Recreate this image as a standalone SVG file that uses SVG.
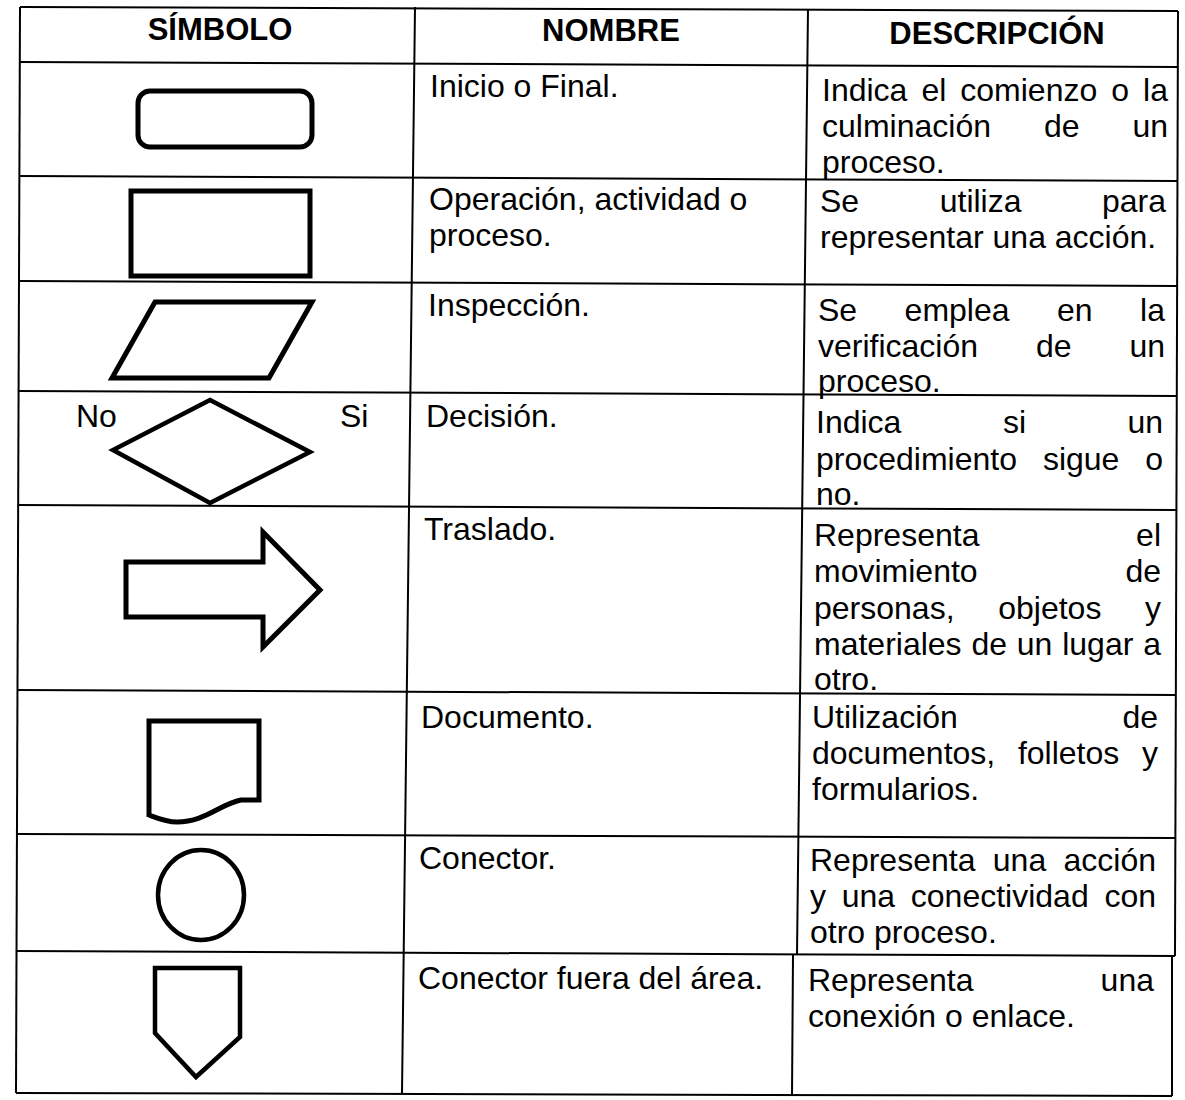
<svg xmlns="http://www.w3.org/2000/svg" width="1185" height="1100" viewBox="0 0 1185 1100">
<style>
  .grid line { stroke:#000; stroke-width:2; }
  .sym { fill:none; stroke:#000; stroke-width:5; stroke-linejoin:miter; }
  .sym4 { fill:none; stroke:#000; stroke-width:4.5; }
  text { font-family:"Liberation Sans", Arial, sans-serif; font-size:32px; fill:#000; }
  .hd { font-weight:bold; font-size:31px; text-anchor:middle; }
</style>
<rect x="0" y="0" width="1185" height="1100" fill="#fff"/>
<g id="grid" class="grid">
  <line x1="20" y1="7" x2="1178" y2="11"/>
  <line x1="20" y1="62" x2="1178" y2="67"/>
  <line x1="19" y1="176" x2="1178" y2="181"/>
  <line x1="19" y1="281" x2="1177" y2="286"/>
  <line x1="18" y1="391" x2="1177" y2="396"/>
  <line x1="18" y1="505" x2="1176" y2="510"/>
  <line x1="17" y1="690" x2="1176" y2="695"/>
  <line x1="17" y1="834" x2="1175" y2="838"/>
  <line x1="16" y1="951" x2="1175" y2="956"/>
  <line x1="16" y1="1093" x2="1172" y2="1096"/>
  <line x1="20" y1="7" x2="16" y2="1093"/>
  <line x1="415" y1="7" x2="402" y2="1094"/>
  <line x1="808" y1="9" x2="797" y2="955"/>
  <line x1="793" y1="955" x2="792" y2="1095"/>
  <line x1="1178" y1="11" x2="1175" y2="956"/>
  <line x1="1172" y1="956" x2="1172" y2="1096"/>
</g>
<g id="header">
  <text class="hd" x="220" y="40">SÍMBOLO</text>
  <text class="hd" x="611" y="41">NOMBRE</text>
  <text class="hd" x="997" y="44">DESCRIPCIÓN</text>
</g>
<g id="row-inicio">
  <rect class="sym" x="138" y="91" width="174" height="56" rx="12"/>
  <text x="430" y="97">Inicio o Final.</text>
  <text y="101"><tspan x="822">Indica</tspan><tspan x="921.4">el</tspan><tspan x="960.3">comienzo</tspan><tspan x="1111.2">o</tspan><tspan x="1143.1">la</tspan></text>
  <text y="137"><tspan x="822">culminación</tspan><tspan x="1043.9">de</tspan><tspan x="1132.4">un</tspan></text>
  <text x="822" y="173">proceso.</text>
</g>
<g id="row-operacion">
  <rect class="sym" x="131" y="191" width="179" height="85"/>
  <text x="429" y="210">Operación, actividad o</text>
  <text x="429" y="246">proceso.</text>
  <text y="212"><tspan x="820">Se</tspan><tspan x="939.7">utiliza</tspan><tspan x="1102">para</tspan></text>
  <text x="820" y="248">representar una acción.</text>
</g>
<g id="row-inspeccion">
  <polygon class="sym" points="155,302 312,302 269,378 112,378"/>
  <text x="428" y="316">Inspección.</text>
  <text y="321"><tspan x="818">Se</tspan><tspan x="904.6">emplea</tspan><tspan x="1057">en</tspan><tspan x="1140.1">la</tspan></text>
  <text y="357"><tspan x="818">verificación</tspan><tspan x="1035.9">de</tspan><tspan x="1129.4">un</tspan></text>
  <text x="818" y="392">proceso.</text>
</g>
<g id="row-decision">
  <polygon class="sym4" points="210,400 310,452 210,503 113,450"/>
  <text x="76" y="427">No</text>
  <text x="340" y="427">Si</text>
  <text x="426" y="427">Decisión.</text>
  <text y="433"><tspan x="816">Indica</tspan><tspan x="1002.9">si</tspan><tspan x="1127.4">un</tspan></text>
  <text y="470"><tspan x="816">procedimiento</tspan><tspan x="1042.9">sigue</tspan><tspan x="1145.2">o</tspan></text>
  <text x="816" y="505">no.</text>
</g>
<g id="row-traslado">
  <polygon class="sym" points="126,562 263,562 263,532 320,590 263,647 263,617 126,617"/>
  <text x="424" y="540">Traslado.</text>
  <text y="546"><tspan x="814">Representa</tspan><tspan x="1136.1">el</tspan></text>
  <text y="582"><tspan x="814">movimiento</tspan><tspan x="1125.4">de</tspan></text>
  <text y="619"><tspan x="814">personas,</tspan><tspan x="998.2">objetos</tspan><tspan x="1145">y</tspan></text>
  <text y="655"><tspan x="814">materiales</tspan><tspan x="971.4">de</tspan><tspan x="1016.8">un</tspan><tspan x="1062.2">lugar</tspan><tspan x="1143.2">a</tspan></text>
  <text x="814" y="690">otro.</text>
</g>
<g id="row-documento">
  <path class="sym" d="M149,721 H259 V800 H241 C220,804 205,822 177,822 C166,822 157,818 149,815 Z"/>
  <text x="421" y="728">Documento.</text>
  <text y="728"><tspan x="812">Utilización</tspan><tspan x="1122.4">de</tspan></text>
  <text y="764"><tspan x="812">documentos,</tspan><tspan x="1017.9">folletos</tspan><tspan x="1142">y</tspan></text>
  <text x="812" y="800">formularios.</text>
</g>
<g id="row-conector">
  <ellipse class="sym4" cx="201" cy="895" rx="43" ry="45"/>
  <text x="419" y="869">Conector.</text>
  <text y="871"><tspan x="810">Representa</tspan><tspan x="992.8">una</tspan><tspan x="1063.5">acción</tspan></text>
  <text y="907"><tspan x="810">y</tspan><tspan x="841.7">una</tspan><tspan x="910.8">conectividad</tspan><tspan x="1104.4">con</tspan></text>
  <text x="810" y="943">otro proceso.</text>
</g>
<g id="row-conector-fuera">
  <polygon class="sym4" points="155,968 240,968 240,1037 196,1077 155,1033"/>
  <text x="418" y="989">Conector fuera del área.</text>
  <text y="991"><tspan x="808">Representa</tspan><tspan x="1100.6">una</tspan></text>
  <text x="808" y="1027">conexión o enlace.</text>
</g>
</svg>
